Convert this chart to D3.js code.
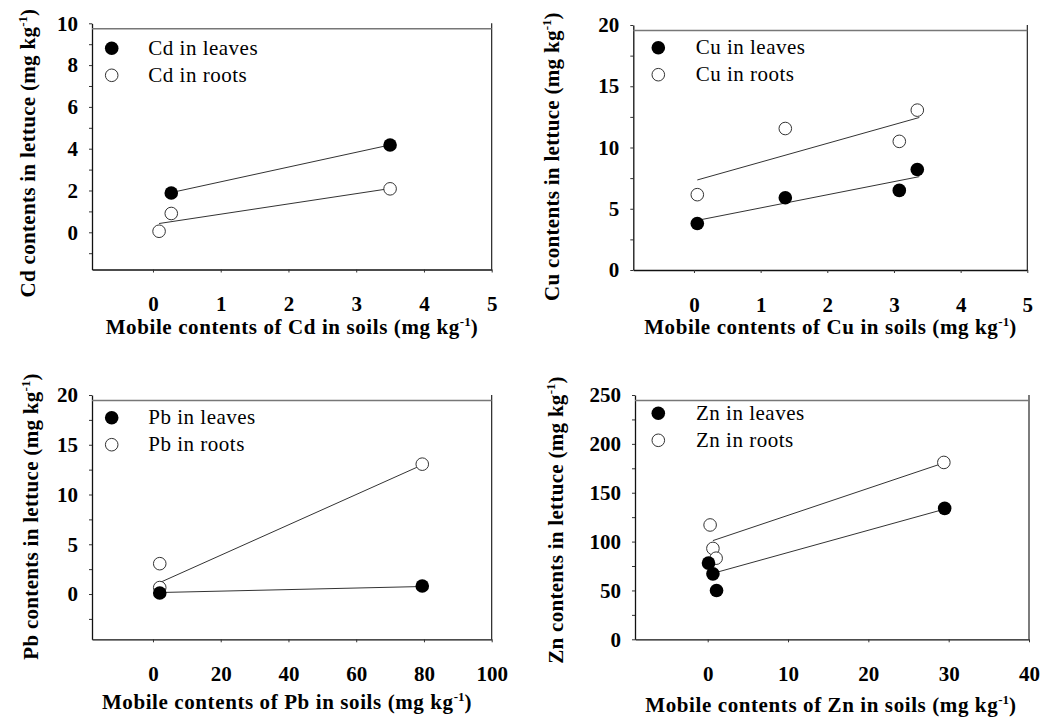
<!DOCTYPE html>
<html>
<head>
<meta charset="utf-8">
<script src="https://cdn.jsdelivr.net/npm/d3@7"></script>
<style>
  body { margin: 0; background: #fff; }
  svg { display: block; }
</style>
</head>
<body>
<div class="plot"></div>
<script>
// values: [soil content, content in lettuce]
const cdLeaves = [[0.27, 1.88], [3.5, 4.18]];
const cdRoots = [[0.09, 0.05], [0.27, 0.9], [3.5, 2.08]];
const cdLeavesFit = [[0.27, 1.9], [3.5, 4.18]];
const cdRootsFit = [[0.09, 0.42], [3.45, 2.07]];

const cuLeaves = [[0.05, 3.8], [1.37, 5.9], [3.08, 6.5], [3.35, 8.2]];
const cuRoots = [[0.05, 6.15], [1.37, 11.55], [3.08, 10.5], [3.35, 13.05]];
const cuLeavesFit = [[0.05, 4.05], [3.38, 7.62]];
const cuRootsFit = [[0.05, 7.35], [3.38, 12.45]];

const pbLeaves = [[2, 0.1], [79.5, 0.8]];
const pbRoots = [[2, 3.05], [2, 0.65], [79.5, 13.05]];
const pbLeavesFit = [[2, 0.15], [79, 0.75]];
const pbRootsFit = [[2, 1.15], [79, 12.9]];

const znLeaves = [[0.1, 78], [0.65, 67], [1.1, 50], [29.5, 134]];
const znRoots = [[0.3, 117], [0.65, 93], [1.05, 83], [29.4, 181]];
const znLeavesFit = [[0.65, 67.5], [29.4, 133]];
const znRootsFit = [[0.65, 101], [29.4, 180.5]];

// tick labels
const cdXTicks = [0, 1, 2, 3, 4, 5];
const cdYTicks = [0, 2, 4, 6, 8, 10];
const cuXTicks = [0, 1, 2, 3, 4, 5];
const cuYTicks = [0, 5, 10, 15, 20];
const pbXTicks = [0, 20, 40, 60, 80, 100];
const pbYTicks = [0, 5, 10, 15, 20];
const znXTicks = [0, 10, 20, 30, 40];
const znYTicks = [0, 50, 100, 150, 200, 250];

const W = 1050, H = 718;
const FONT = "'Liberation Serif', 'Times New Roman', serif";

let svg = d3.select(".plot").append("svg")
    .attr("width", W)
    .attr("height", H)
    .style("font-family", FONT);

let panels = [
  {el: "Cd", leaves: cdLeaves, roots: cdRoots, leavesFit: cdLeavesFit, rootsFit: cdRootsFit,
   xTicks: cdXTicks, yTicks: cdYTicks, xDom: [-0.9, 5], yDom: [-1.78, 10], yMinor: 1,
   left: 92, right: 491.7, top: 23.3, bottom: 269.5,
   legX: 111.7, legY: 48.3, legTextX: 148.3, xLabX: 292, xLabY: 334, yLabX: 35, yLabY: 153},
  {el: "Cu", leaves: cuLeaves, roots: cuRoots, leavesFit: cuLeavesFit, rootsFit: cuRootsFit,
   xTicks: cuXTicks, yTicks: cuYTicks, xDom: [-0.91, 5], yDom: [0, 20], yMinor: 2.5,
   left: 633.3, right: 1027.3, top: 25, bottom: 270,
   legX: 658.3, legY: 47.7, legTextX: 695.7, xLabX: 830.5, xLabY: 334, yLabX: 559, yLabY: 156.5},
  {el: "Pb", leaves: pbLeaves, roots: pbRoots, leavesFit: pbLeavesFit, rootsFit: pbRootsFit,
   xTicks: pbXTicks, yTicks: pbYTicks, xDom: [-18, 100], yDom: [-4.55, 20], yMinor: 2.5,
   left: 92, right: 491.7, top: 395, bottom: 639.3,
   legX: 111.7, legY: 417.7, legTextX: 148.3, xLabX: 287, xLabY: 709, yLabX: 38, yLabY: 516.5},
  {el: "Zn", leaves: znLeaves, roots: znRoots, leavesFit: znLeavesFit, rootsFit: znRootsFit,
   xTicks: znXTicks, yTicks: znYTicks, xDom: [-9.05, 40], yDom: [0, 250], yMinor: 25,
   left: 635, right: 1029, top: 395, bottom: 639.3,
   legX: 658.3, legY: 413.3, legTextX: 696, xLabX: 831, xLabY: 712, yLabX: 562.5, yLabY: 520}
];

panels.forEach(function(p){ drawPanel(p); });

function drawPanel(p){
  let x = d3.scaleLinear().domain(p.xDom).range([p.left, p.right]);
  let y = d3.scaleLinear().domain(p.yDom).range([p.bottom, p.top]);
  let g = svg.append("g");

  // minor y ticks (no labels)
  let minor = d3.range(Math.ceil(p.yDom[0] / p.yMinor) * p.yMinor, p.yDom[1] + 1e-9, p.yMinor)
      .filter(function(v){ return p.yTicks.indexOf(+v.toFixed(4)) < 0; });
  g.append("g")
      .attr("transform", "translate(" + p.left + ",0)")
      .call(d3.axisLeft(y).tickValues(minor).tickSize(3).tickSizeOuter(0).tickFormat(""))
      .call(function(a){ a.select(".domain").remove(); });

  let yAxis = g.append("g")
      .attr("transform", "translate(" + p.left + ",0)")
      .call(d3.axisLeft(y).tickValues(p.yTicks).tickFormat(d3.format("d"))
        .tickSize(3).tickSizeOuter(0).tickPadding(11));
  let xAxis = g.append("g")
      .attr("transform", "translate(0," + p.bottom + ")")
      .call(d3.axisBottom(x).tickValues(p.xTicks).tickFormat(d3.format("d"))
        .tickSize(3).tickSizeOuter(0).tickPadding(24));

  [yAxis, xAxis].forEach(function(a){
    a.attr("font-family", null).attr("font-size", null);
    a.selectAll("text")
      .style("font-size", "21px")
      .style("font-weight", "bold")
      .attr("fill", "#000");
    a.select(".domain").attr("stroke", "#111").attr("stroke-width", 1.3);
  });
  g.selectAll(".tick line").attr("stroke", "#333");

  // frame: right edge and the slightly lowered top edge
  g.append("line")
      .attr("x1", x(p.xDom[1])).attr("x2", x(p.xDom[1]))
      .attr("y1", y(p.yDom[1])).attr("y2", p.bottom)
      .attr("stroke", "#111").attr("stroke-width", 1.1);
  g.append("line")
      .attr("x1", p.left).attr("x2", x(p.xDom[1]))
      .attr("y1", y(p.yDom[1]) + 5.5).attr("y2", y(p.yDom[1]) + 5.5)
      .attr("stroke", "#777").attr("stroke-width", 1.4);

  // regression lines
  let line = d3.line().x(function(d){ return x(d[0]); }).y(function(d){ return y(d[1]); });
  [p.leavesFit, p.rootsFit].forEach(function(f){
    g.append("path").datum(f)
        .attr("d", line)
        .attr("fill", "none")
        .attr("stroke", "#333")
        .attr("stroke-width", 1);
  });

  // points
  g.selectAll(".roots").data(p.roots).enter().append("circle")
      .attr("class", "roots")
      .attr("cx", function(d){ return x(d[0]); })
      .attr("cy", function(d){ return y(d[1]); })
      .attr("r", 6.3)
      .attr("fill", "#fff")
      .attr("stroke", "#333")
      .attr("stroke-width", 1);
  g.selectAll(".leaves").data(p.leaves).enter().append("circle")
      .attr("class", "leaves")
      .attr("cx", function(d){ return x(d[0]); })
      .attr("cy", function(d){ return y(d[1]); })
      .attr("r", 6.8)
      .attr("fill", "#000");

  // legend
  let legend = [{label: p.el + " in leaves", fill: "#000"}, {label: p.el + " in roots", fill: "#fff"}];
  legend.forEach(function(l, i){
    let ly = p.legY + i * 27;
    g.append("circle")
        .attr("cx", p.legX).attr("cy", ly)
        .attr("r", i === 0 ? 6.8 : 6.3)
        .attr("fill", l.fill)
        .attr("stroke", i === 0 ? "none" : "#333");
    g.append("text")
        .attr("x", p.legTextX).attr("y", ly + 6.5)
        .style("font-size", "21px")
        .style("letter-spacing", "0.5px")
        .text(l.label);
  });

  // axis titles
  let xt = g.append("text")
      .attr("x", p.xLabX).attr("y", p.xLabY)
      .attr("text-anchor", "middle")
      .style("font-size", "21px")
      .style("font-weight", "bold")
      .style("letter-spacing", "0.6px");
  unitText(xt, "Mobile contents of " + p.el + " in soils (mg kg");

  let yt = g.append("text")
      .attr("transform", "translate(" + p.yLabX + "," + p.yLabY + ") rotate(-90)")
      .attr("text-anchor", "middle")
      .style("font-size", "21px")
      .style("font-weight", "bold")
      .style("letter-spacing", "0.3px");
  unitText(yt, p.el + " contents in lettuce (mg kg");
}

function unitText(t, head){
  t.append("tspan").text(head);
  t.append("tspan").attr("dy", -8).style("font-size", "13px").style("letter-spacing", "0px").text("-1");
  t.append("tspan").attr("dy", 8).text(")");
}
</script>
</body>
</html>
